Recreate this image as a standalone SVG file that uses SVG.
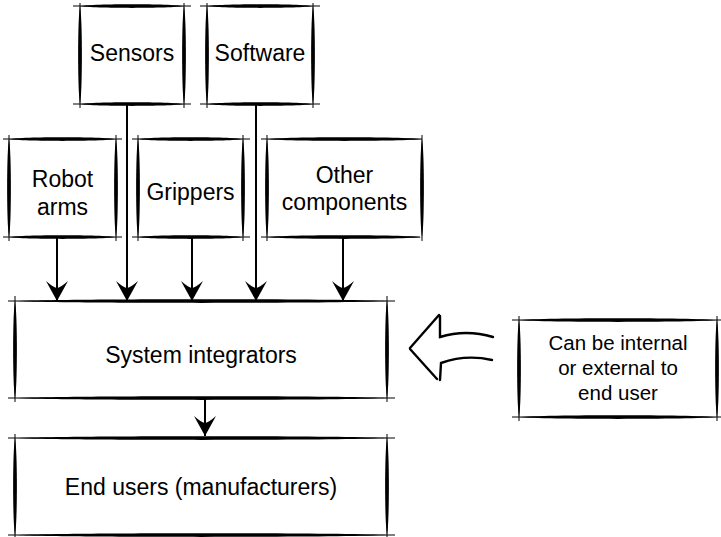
<svg xmlns="http://www.w3.org/2000/svg" xmlns:xlink="http://www.w3.org/1999/xlink" width="721" height="537" viewBox="0 0 721 537">
<style>
.t{font-family:"Liberation Sans",Arial,Helvetica,sans-serif;font-size:23px;text-anchor:middle;fill:#000}
.s{font-size:20.5px}
.thin{stroke:#000;stroke-width:1;fill:none}
.conn{stroke:#000;stroke-width:2;fill:none}
.big{stroke:#000;stroke-width:2.4;fill:none;stroke-linecap:round}
</style>
<defs>
<path id="h" d="M0,0 C0.12,-2.5 0.88,-2.5 1,0 C0.88,2.5 0.12,2.5 0,0Z" fill="#000"/>
<marker id="ah" markerUnits="userSpaceOnUse" viewBox="-22 -12 24 24" markerWidth="24" markerHeight="24" refX="0" refY="0" orient="auto">
<path d="M0,0 L-20,-11 Q-13,-3 -13,0 Q-13,3 -20,11 Z" fill="#000"/>
</marker>
</defs>
<rect width="721" height="537" fill="#fff"/>

<g id="sensors">
<path class="thin" d="M73,6H191M73,104H191M80,3V108M184,3V108"/>
<use href="#h" transform="translate(80,6) scale(104,1)"/>
<use href="#h" transform="translate(80,104) scale(104,1)"/>
<use href="#h" transform="translate(80,6) rotate(90) scale(98,1)"/>
<use href="#h" transform="translate(184,6) rotate(90) scale(98,1)"/>
<text class="t" x="132" y="61">Sensors</text>
</g>

<g id="software">
<path class="thin" d="M200,6H320M200,104H320M207,3V108M313,3V108"/>
<use href="#h" transform="translate(207,6) scale(106,1)"/>
<use href="#h" transform="translate(207,104) scale(106,1)"/>
<use href="#h" transform="translate(207,6) rotate(90) scale(98,1)"/>
<use href="#h" transform="translate(313,6) rotate(90) scale(98,1)"/>
<text class="t" x="260" y="61">Software</text>
</g>

<g id="robot-arms">
<path class="thin" d="M3,139H122M3,237H122M9,135V241M116,135V241"/>
<use href="#h" transform="translate(9,139) scale(107,1)"/>
<use href="#h" transform="translate(9,237) scale(107,1)"/>
<use href="#h" transform="translate(9,139) rotate(90) scale(98,1)"/>
<use href="#h" transform="translate(116,139) rotate(90) scale(98,1)"/>
<text class="t" x="62.5" y="187">Robot</text>
<text class="t" x="62.5" y="215">arms</text>
</g>

<g id="grippers">
<path class="thin" d="M132,139H250M132,237H250M138,135V241M243,135V241"/>
<use href="#h" transform="translate(138,139) scale(105,1)"/>
<use href="#h" transform="translate(138,237) scale(105,1)"/>
<use href="#h" transform="translate(138,139) rotate(90) scale(98,1)"/>
<use href="#h" transform="translate(243,139) rotate(90) scale(98,1)"/>
<text class="t" x="190.5" y="200">Grippers</text>
</g>

<g id="other-components">
<path class="thin" d="M261,139H422M261,237H420M267,135V241M422,135V241"/>
<use href="#h" transform="translate(267,139) scale(155,1)"/>
<use href="#h" transform="translate(267,237) scale(155,1)"/>
<use href="#h" transform="translate(267,139) rotate(90) scale(98,1)"/>
<use href="#h" transform="translate(422,139) rotate(90) scale(98,1)"/>
<text class="t" x="344.5" y="183">Other</text>
<text class="t" x="344.5" y="210">components</text>
</g>

<g id="system-integrators">
<path class="thin" d="M8,301H395M8,398H395M15,296V402M387,296V402"/>
<use href="#h" transform="translate(15,301) scale(372,1)"/>
<use href="#h" transform="translate(15,398) scale(372,1)"/>
<use href="#h" transform="translate(15,301) rotate(90) scale(97,1)"/>
<use href="#h" transform="translate(387,301) rotate(90) scale(97,1)"/>
<text class="t" x="201" y="363">System integrators</text>
</g>

<g id="end-users">
<path class="thin" d="M8,438H395M8,535H395M15,434V537M387,434V537"/>
<use href="#h" transform="translate(15,438) scale(372,1)"/>
<use href="#h" transform="translate(15,535) scale(372,1)"/>
<use href="#h" transform="translate(15,438) rotate(90) scale(97,1)"/>
<use href="#h" transform="translate(387,438) rotate(90) scale(97,1)"/>
<text class="t" x="201" y="495">End users (manufacturers)</text>
</g>

<g id="note">
<path class="thin" d="M512,320H721M512,417H721M519,316V421M717,316V421"/>
<use href="#h" transform="translate(519,320) scale(198,1)"/>
<use href="#h" transform="translate(519,417) scale(198,1)"/>
<use href="#h" transform="translate(519,320) rotate(90) scale(97,1)"/>
<use href="#h" transform="translate(717,320) rotate(90) scale(97,1)"/>
<text class="t s" x="618" y="350">Can be internal</text>
<text class="t s" x="618" y="375">or external to</text>
<text class="t s" x="618" y="400">end user</text>
</g>

<g id="connectors">
<line class="conn" x1="57" y1="237" x2="57" y2="301" marker-end="url(#ah)"/>
<line class="conn" x1="127" y1="104" x2="127" y2="301" marker-end="url(#ah)"/>
<line class="conn" x1="192" y1="237" x2="192" y2="301" marker-end="url(#ah)"/>
<line class="conn" x1="256" y1="104" x2="256" y2="301" marker-end="url(#ah)"/>
<line class="conn" x1="343" y1="237" x2="343" y2="301" marker-end="url(#ah)"/>
<line class="conn" x1="205" y1="398" x2="205" y2="436" marker-end="url(#ah)"/>
<path class="big" d="M410,348 L439,315 M440,316 L440,337 Q466,329 493,337 M492,360 Q466,354 441,363 L440,380 M437,379 L410,349"/>
</g>
</svg>
